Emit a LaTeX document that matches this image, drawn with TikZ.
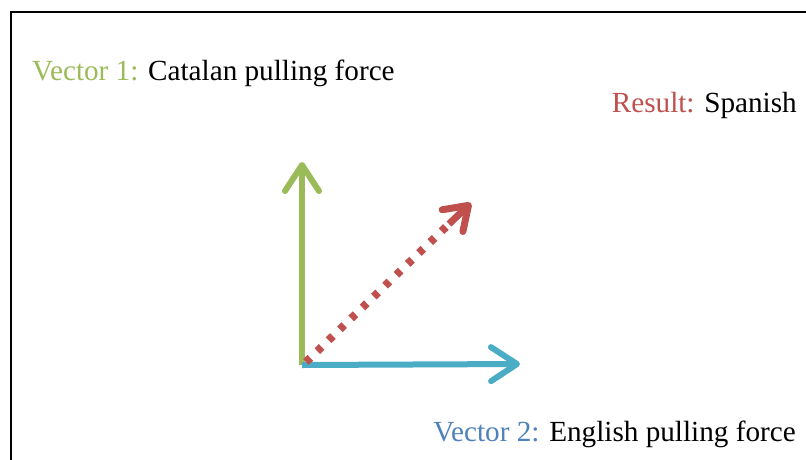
\documentclass[tikz,border=0pt]{standalone}
\usepackage{fontspec}
\setmainfont{Liberation Serif}
\usetikzlibrary{arrows.meta}
\definecolor{vgreen}{HTML}{9BBB59}
\definecolor{vaqua}{HTML}{4BACC6}
\definecolor{vblue}{HTML}{4F81BD}
\definecolor{vred}{HTML}{C0504D}
\begin{document}
\begin{tikzpicture}[x=1pt,y=-1pt,
  lbl/.style={inner sep=0pt, font=\fontsize{29.2}{34}\selectfont},
  vec/.style={line width=6pt, -{Straight Barb[length=26pt,width=34pt,line width=6pt,round]}},
  dotvec/.style={line width=8pt, vred, dash pattern=on 6pt off 9.7pt}]
\useasboundingbox (0,0) rectangle (806,459);
\fill[white] (0,0) rectangle (806,459);
\draw[line width=2pt] (11,470) -- (11,12) -- (820,12);
\coordinate (o) at (302,365);
\coordinate (up) at (302,162);
\coordinate (rt) at (520,364);
\coordinate (dg) at (471,203);
\coordinate (dgs) at (449,224);
\draw[vec, vgreen] (o) -- (up);
\draw[vec, vaqua] (o) -- (rt);
\draw[dotvec] (306,362) -- (dgs);
\draw[line width=7pt, vred, -{Straight Barb[length=22pt,width=30pt,line width=7pt,round]}] (dgs) -- (dg);
\node[lbl, anchor=base west] (v1) at (32,80) {\textcolor{vgreen}{Vector 1:} Catalan pulling force};
\node[lbl, anchor=base east] (res) at (797,112) {\textcolor{vred}{Result:} Spanish};
\node[lbl, anchor=base east] (v2) at (796,441) {\textcolor{vblue}{Vector 2:} English pulling force};
\end{tikzpicture}
\end{document}
